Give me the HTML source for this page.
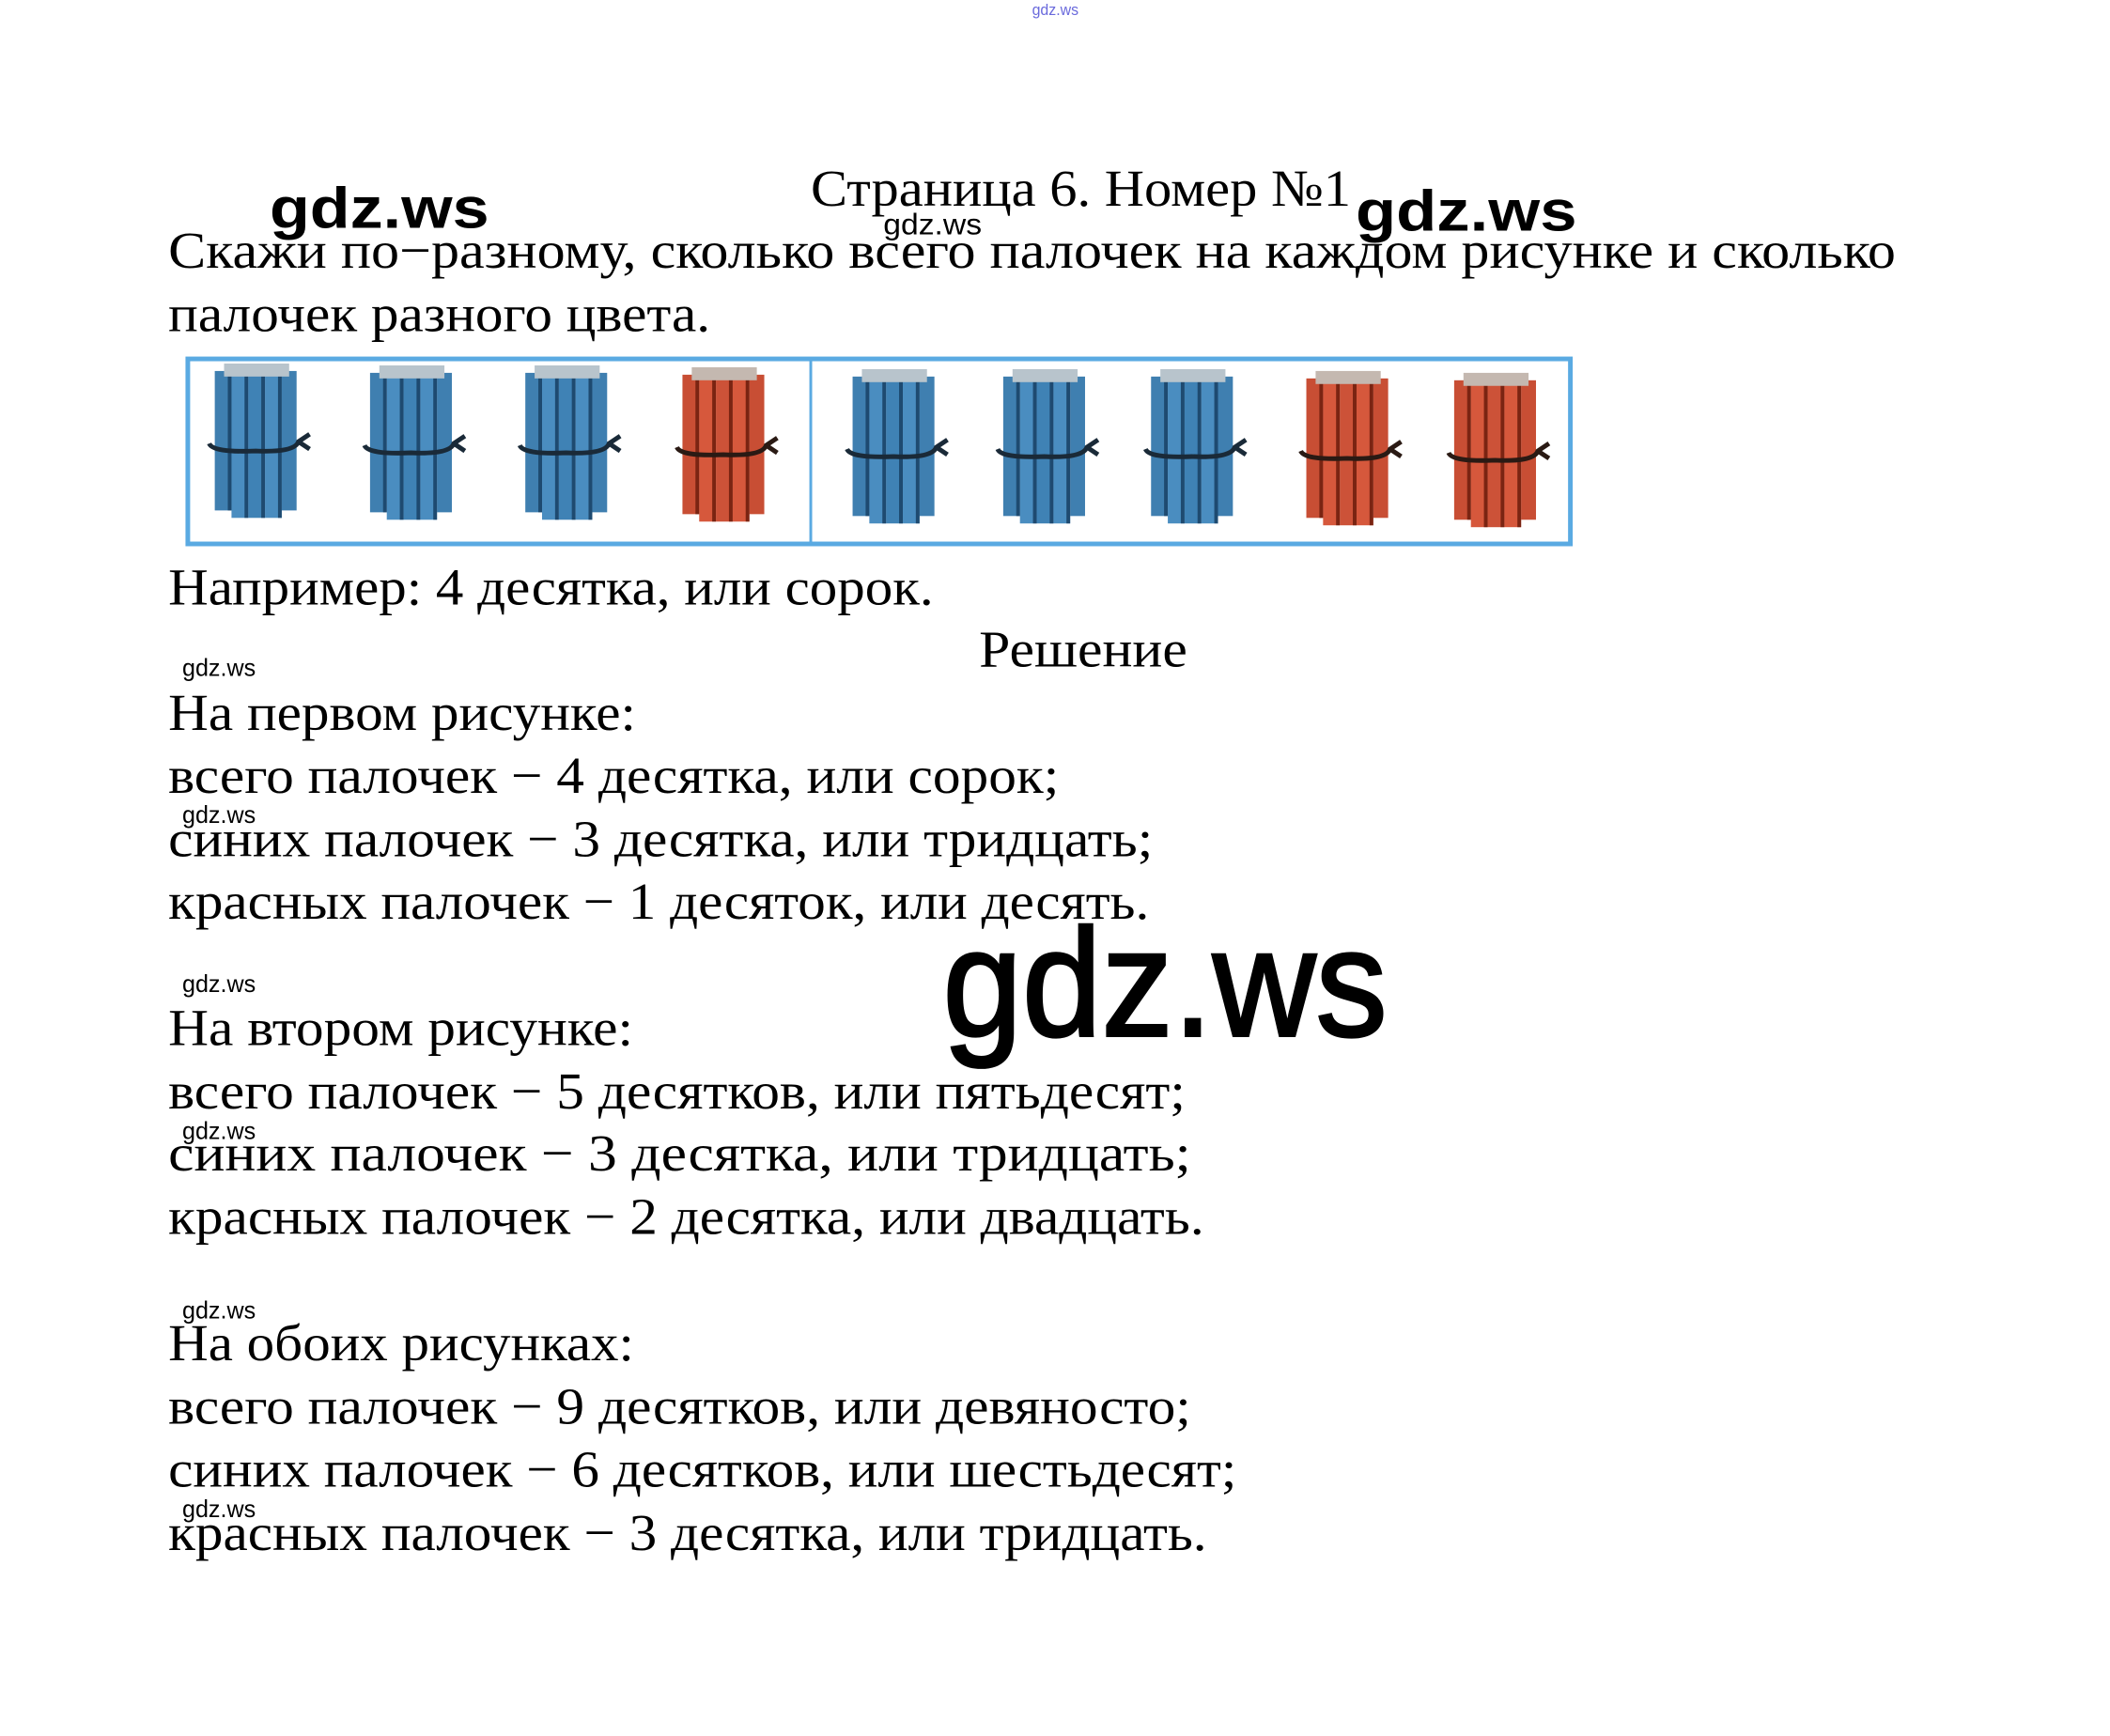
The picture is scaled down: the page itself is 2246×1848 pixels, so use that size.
<!DOCTYPE html>
<html><head><meta charset="utf-8"><style>
html,body{margin:0;padding:0;background:#fff;}
svg{display:block;}
.t{font-family:"Liberation Serif","Noto Serif CJK SC",serif;font-size:56px;fill:#000;}
.g{font-family:"Liberation Sans",sans-serif;fill:#000;}
</style></head><body>
<svg width="2246" height="1848" viewBox="0 0 2246 1848" xmlns="http://www.w3.org/2000/svg">
<defs>
<g id="bb">
  <rect x="2" y="12" width="18" height="150" fill="#3f7fb0"/>
  <rect x="20" y="14" width="18" height="156" fill="#4a8dc0"/>
  <rect x="38" y="8" width="18" height="162" fill="#3f82b5"/>
  <rect x="56" y="14" width="18" height="156" fill="#4a8dc0"/>
  <rect x="74" y="12" width="16" height="150" fill="#3f7fb0"/>
  <g fill="#1e4a70"><rect x="16" y="12" width="4" height="150"/><rect x="34" y="14" width="4" height="156"/><rect x="52" y="8" width="4" height="162"/><rect x="70" y="14" width="4" height="156"/></g>
  <rect x="12" y="4" width="70" height="14" fill="#b8c4cc"/>
  <path d="M-4 90 Q0 100 46 98 Q88 100 92 88 L104 80 M92 88 L104 96" stroke="#1a2a38" stroke-width="5" fill="none"/>
</g>
<g id="rb">
  <rect x="2" y="12" width="18" height="150" fill="#c84e34"/>
  <rect x="20" y="14" width="18" height="156" fill="#d6583c"/>
  <rect x="38" y="8" width="18" height="162" fill="#cc5238"/>
  <rect x="56" y="14" width="18" height="156" fill="#d6583c"/>
  <rect x="74" y="12" width="16" height="150" fill="#c84e34"/>
  <g fill="#7a2412"><rect x="16" y="12" width="4" height="150"/><rect x="34" y="14" width="4" height="156"/><rect x="52" y="8" width="4" height="162"/><rect x="70" y="14" width="4" height="156"/></g>
  <rect x="12" y="4" width="70" height="14" fill="#c4b8b0"/>
  <path d="M-4 90 Q0 100 46 98 Q88 100 92 88 L104 80 M92 88 L104 96" stroke="#2a1a14" stroke-width="5" fill="none"/>
</g>
</defs>
<g transform="translate(0,3) scale(0.9897)">
<text x="1110" y="13" class="g" font-size="17" style="fill:#6a6adc" textLength="50" lengthAdjust="spacingAndGlyphs">gdz.ws</text>

<text x="290" y="242" class="g" font-size="62" font-weight="bold" textLength="236" lengthAdjust="spacingAndGlyphs">gdz.ws</text>
<text x="872" y="218" class="t" textLength="581" lengthAdjust="spacingAndGlyphs">Страница 6. Номер №1</text>
<text x="1458" y="245" class="g" font-size="62" font-weight="bold" textLength="238" lengthAdjust="spacingAndGlyphs">gdz.ws</text>
<text x="950" y="249" class="g" font-size="32" textLength="106" lengthAdjust="spacingAndGlyphs">gdz.ws</text>

<text x="181" y="285" class="t" textLength="1858" lengthAdjust="spacingAndGlyphs">Скажи по−разному, сколько всего палочек на каждом рисунке и сколько</text>
<text x="181" y="353" class="t" textLength="583" lengthAdjust="spacingAndGlyphs">палочек разного цвета.</text>

<rect x="202" y="383" width="1487" height="199" fill="#fff" stroke="#5aaae2" stroke-width="5"/>
<line x1="872" y1="383" x2="872" y2="582" stroke="#5aaae2" stroke-width="3"/>
<use href="#bb" x="229" y="384"/>
<use href="#bb" x="396" y="386"/>
<use href="#bb" x="563" y="386"/>
<use href="#rb" x="732" y="388"/>
<use href="#bb" x="915" y="390"/>
<use href="#bb" x="1077" y="390"/>
<use href="#bb" x="1236" y="390"/>
<use href="#rb" x="1403" y="392"/>
<use href="#rb" x="1562" y="394"/>

<text x="181" y="647" class="t" textLength="823" lengthAdjust="spacingAndGlyphs">Например: 4 десятка, или сорок.</text>
<text x="1053" y="714" class="t" textLength="224" lengthAdjust="spacingAndGlyphs">Решение</text>

<g class="g" font-size="26">
<text x="196" y="724" textLength="79" lengthAdjust="spacingAndGlyphs">gdz.ws</text>
<text x="196" y="882" textLength="79" lengthAdjust="spacingAndGlyphs">gdz.ws</text>
<text x="196" y="1064" textLength="79" lengthAdjust="spacingAndGlyphs">gdz.ws</text>
<text x="196" y="1222" textLength="79" lengthAdjust="spacingAndGlyphs">gdz.ws</text>
<text x="196" y="1415" textLength="79" lengthAdjust="spacingAndGlyphs">gdz.ws</text>
<text x="196" y="1629" textLength="79" lengthAdjust="spacingAndGlyphs">gdz.ws</text>
</g>

<text x="181" y="782" class="t" textLength="503" lengthAdjust="spacingAndGlyphs">На первом рисунке:</text>
<text x="181" y="850" class="t" textLength="958" lengthAdjust="spacingAndGlyphs">всего палочек − 4 десятка, или сорок;</text>
<text x="181" y="918" class="t" textLength="1059" lengthAdjust="spacingAndGlyphs">синих палочек − 3 десятка, или тридцать;</text>
<text x="181" y="985" class="t" textLength="1055" lengthAdjust="spacingAndGlyphs">красных палочек − 1 десяток, или десять.</text>

<text x="1014" y="1111" class="g" font-size="165" stroke="#000" stroke-width="3" textLength="478" lengthAdjust="spacingAndGlyphs">gdz.ws</text>

<text x="181" y="1121" class="t" textLength="500" lengthAdjust="spacingAndGlyphs">На втором рисунке:</text>
<text x="181" y="1189" class="t" textLength="1094" lengthAdjust="spacingAndGlyphs">всего палочек − 5 десятков, или пятьдесят;</text>
<text x="181" y="1256" class="t" textLength="1100" lengthAdjust="spacingAndGlyphs">синих палочек − 3 десятка, или тридцать;</text>
<text x="181" y="1324" class="t" textLength="1114" lengthAdjust="spacingAndGlyphs">красных палочек − 2 десятка, или двадцать.</text>

<text x="181" y="1460" class="t" textLength="501" lengthAdjust="spacingAndGlyphs">На обоих рисунках:</text>
<text x="181" y="1528" class="t" textLength="1100" lengthAdjust="spacingAndGlyphs">всего палочек − 9 десятков, или девяносто;</text>
<text x="181" y="1596" class="t" textLength="1149" lengthAdjust="spacingAndGlyphs">синих палочек − 6 десятков, или шестьдесят;</text>
<text x="181" y="1664" class="t" textLength="1117" lengthAdjust="spacingAndGlyphs">красных палочек − 3 десятка, или тридцать.</text>
</g>
</svg>
</body></html>
